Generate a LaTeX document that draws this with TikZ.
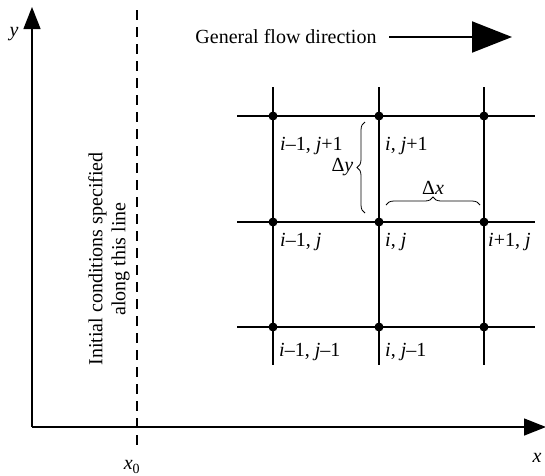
\documentclass[tikz,border=0pt]{standalone}
\usepackage{fontspec}
\setmainfont{Liberation Serif}
\usetikzlibrary{arrows.meta, decorations.pathreplacing, positioning}

\begin{document}
\begin{tikzpicture}[
  x=1pt, y=-1pt,
  font=\fontsize{20}{23}\selectfont,
  axis/.style={line width=1.4pt, -{Triangle[length=22pt, width=17pt]}},
  flowarrow/.style={line width=2pt, -{Triangle[length=40pt, width=31pt]}},
  dashline/.style={line width=1.2pt, dash pattern=on 10pt off 7pt},
  gridline/.style={line width=1.2pt},
  gridpt/.style={circle, fill, inner sep=0pt, minimum size=9pt},
  lbl/.style={anchor=north west, inner sep=2pt},
  brace/.style={decorate, decoration={brace, amplitude=8pt}, line width=0.8pt}
]
\useasboundingbox (0,0) rectangle (545,475);

%% Axes
\coordinate (origin) at (32,427);
\coordinate (ytip)   at (32,7);
\coordinate (xtip)   at (546,427);
\draw[axis] (origin) -- (ytip);
\draw[axis] (origin) -- (xtip);
\node (ylab) at (14,34)  {\itshape y};
\node (xlab) at (537,458) {\itshape x};

%% Initial line x0
\coordinate (dtop) at (137,10);
\coordinate (dbot) at (137,447);
\draw[dashline] (dtop) -- (dbot);
\node (xzero) at (132,467) {{\itshape x}\textsubscript{0}};
\node[rotate=90, align=center] (init) at (109,259)
    {Initial conditions specified\\along this line};

%% Flow direction
\node (flow) at (286,37) {General flow direction};
\coordinate (fend) at (512,37);
\draw[flowarrow] ([xshift=9pt]flow.east) -- (fend);

%% Grid
\foreach \i/\x in {0/273,1/379,2/484}{
  \coordinate (vt\i) at (\x,87);
  \coordinate (vb\i) at (\x,365);
  \draw[gridline] (vt\i) -- (vb\i);
}
\foreach \j/\y in {0/327,1/222,2/116}{
  \coordinate (hl\j) at (237,\y);
  \coordinate (hr\j) at (535,\y);
  \draw[gridline] (hl\j) -- (hr\j);
}
\foreach \i/\x in {0/273,1/379,2/484}{
  \foreach \j/\y in {0/327,1/222,2/116}{
    \node[gridpt] (n\i\j) at (\x,\y) {};
  }
}

%% Node labels
\node[lbl, below right=19pt and 5pt of n02.center] (l02) {{\itshape i}–1, {\itshape j}+1};
\node[lbl, below right=19pt and 4pt of n12.center] (l12) {{\itshape i}, {\itshape j}+1};
\node[lbl, below right=9pt and 5pt of n01.center]  (l01) {{\itshape i}–1, {\itshape j}};
\node[lbl, below right=9pt and 4pt of n11.center]  (l11) {{\itshape i}, {\itshape j}};
\node[lbl, below right=9pt and 2pt of n21.center]  (l21) {{\itshape i}+1, {\itshape j}};
\node[lbl, below right=14pt and 4pt of n00.center] (l00) {{\itshape i}–1, {\itshape j}–1};
\node[lbl, below right=14pt and 4pt of n10.center] (l10) {{\itshape i}, {\itshape j}–1};

%% Spacing braces
\coordinate (dybot) at (365,213);
\coordinate (dytop) at (365,122);
\draw[brace] (dybot) -- (dytop) node[midway, left=8pt] (dy) {Δ{\itshape y}};
\coordinate (dxl) at (386,205);
\coordinate (dxr) at (480,205);
\draw[brace] (dxl) -- (dxr) node[midway, above=7pt] (dx) {Δ{\itshape x}};

\end{tikzpicture}
\end{document}
